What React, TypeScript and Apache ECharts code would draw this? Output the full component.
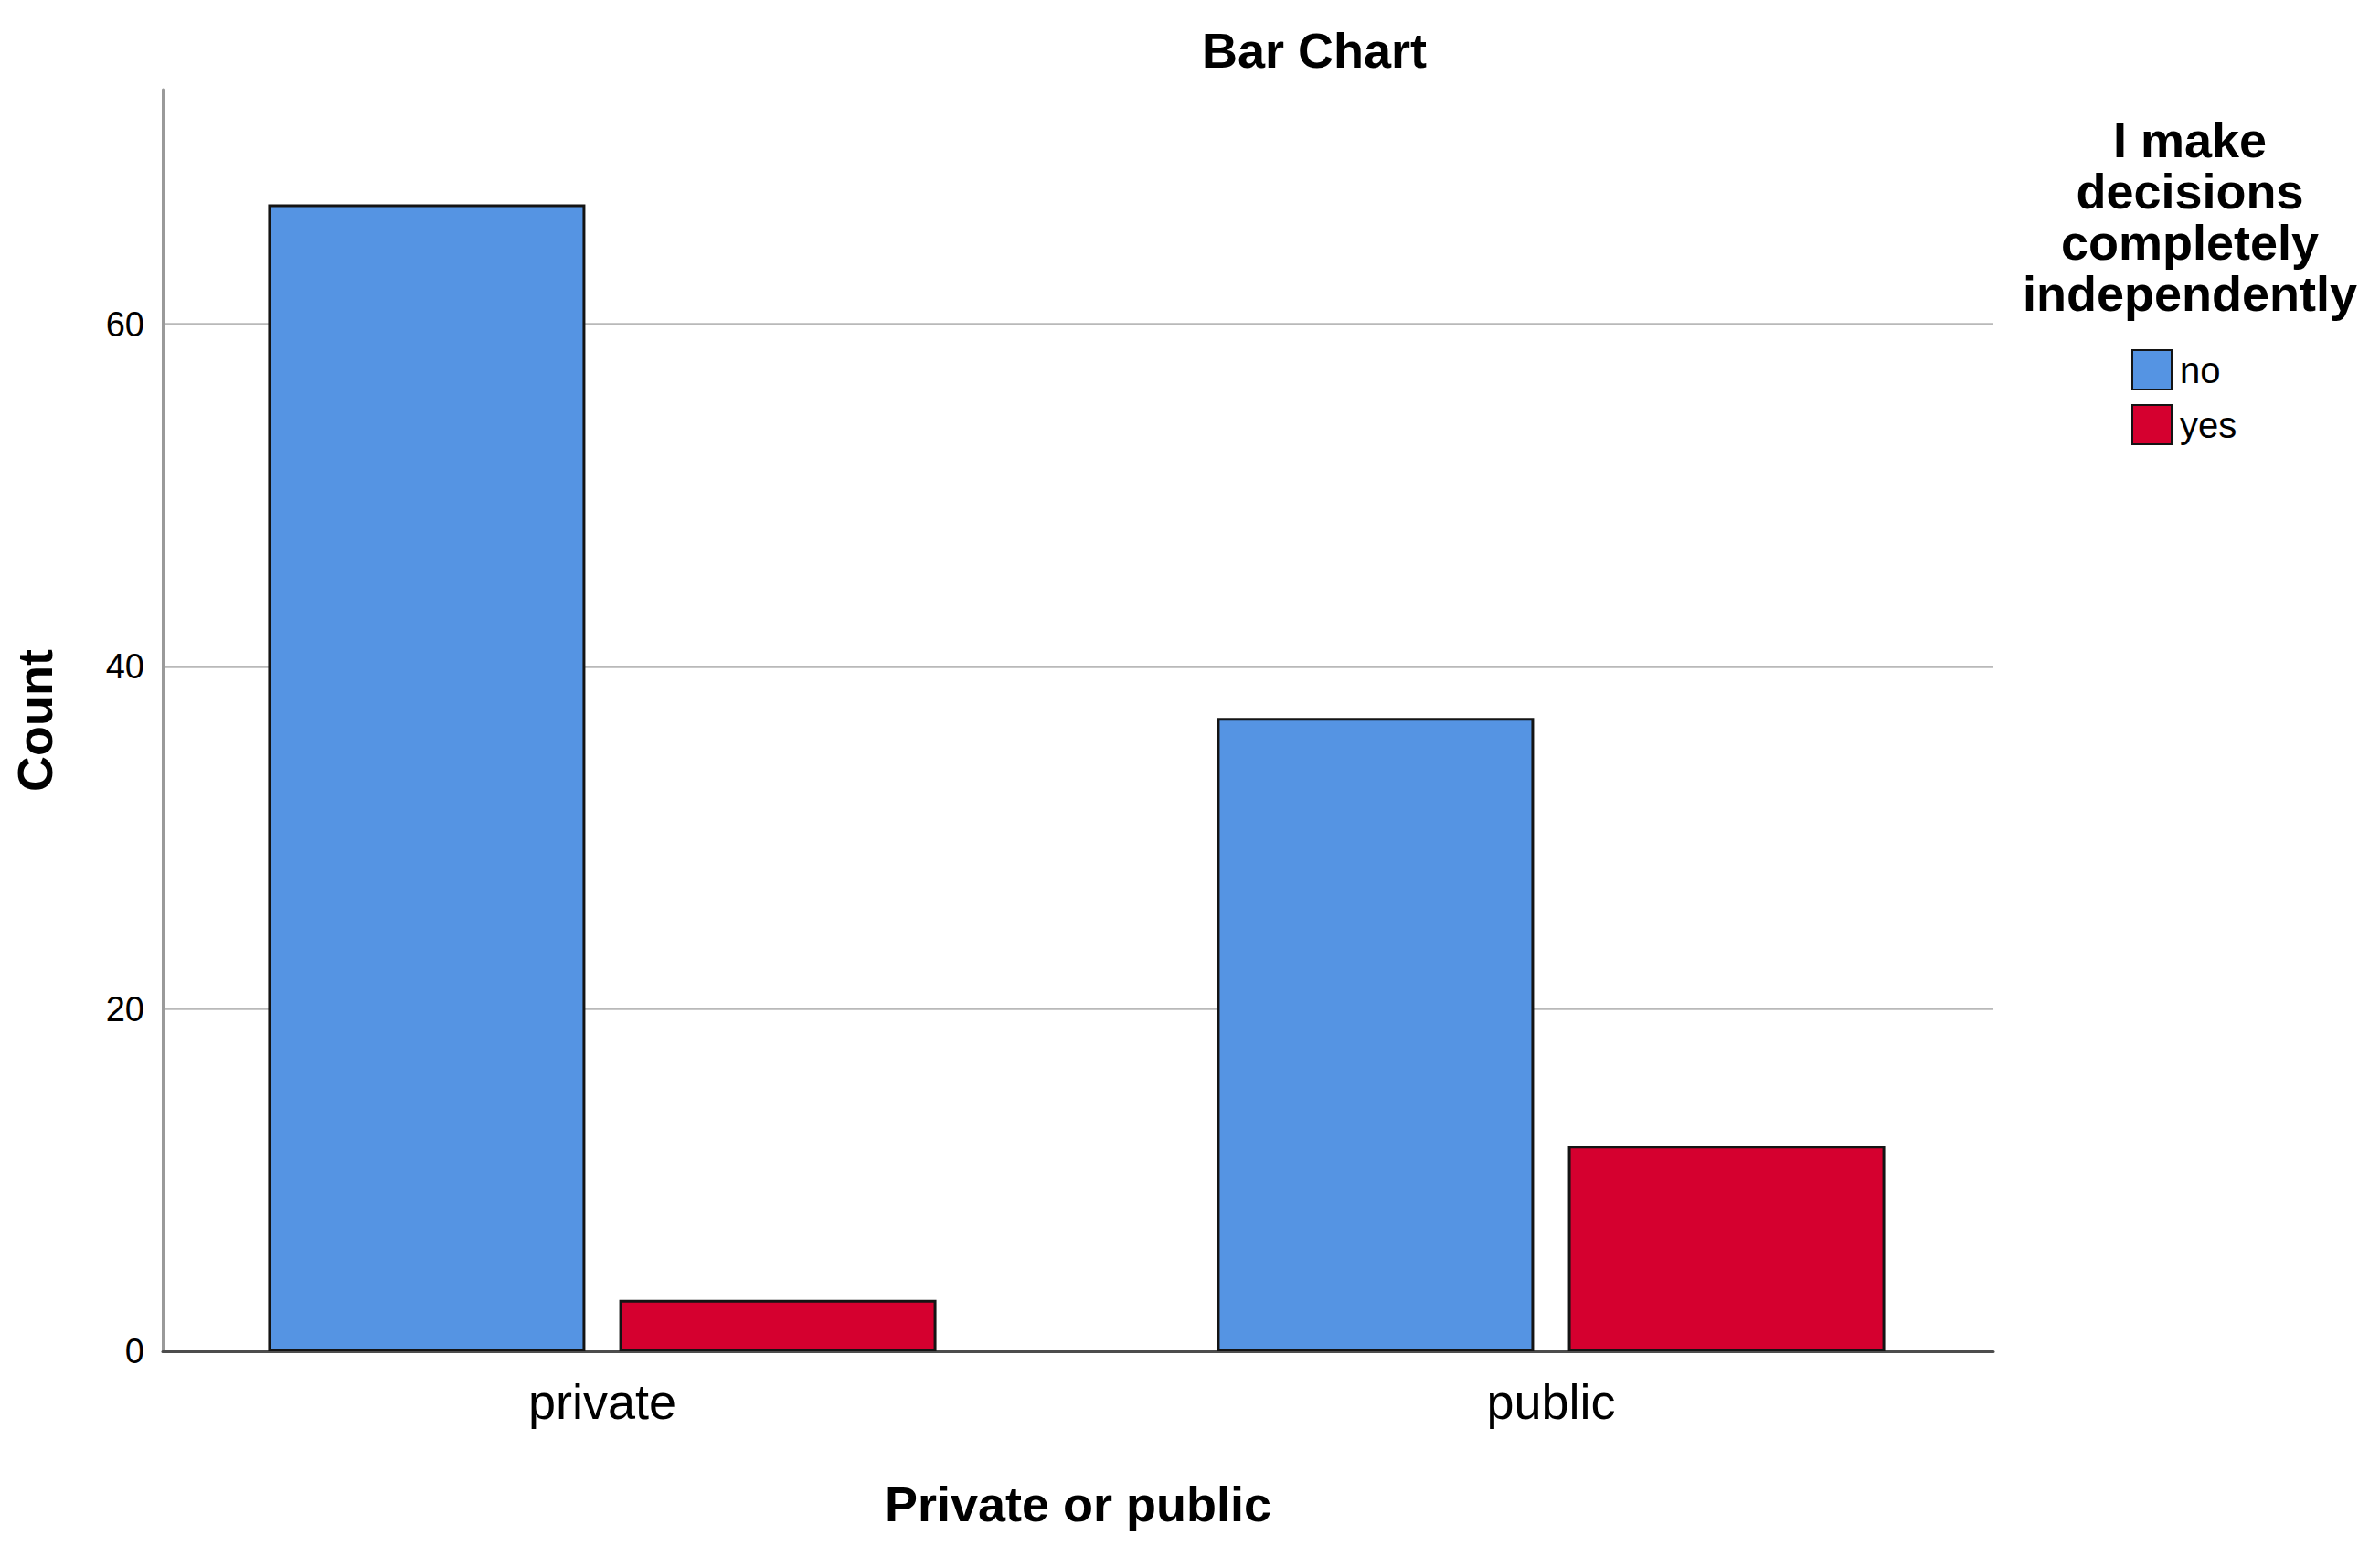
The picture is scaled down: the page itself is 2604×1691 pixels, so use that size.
import React, { useEffect, useRef } from "react";
import * as echarts from "echarts";

const categories = ["private", "public"];
const seriesNames = ["no", "yes"];
const noValues = [67, 37];
const yesValues = [3, 12];
const yTickInterval = 20;
const yMax = 73.7;
const legendTitle = "I make\ndecisions\ncompletely\nindependently";

const FONT = "'Liberation Sans', Arial, sans-serif";

export default function App() {
  const ref = useRef<HTMLDivElement>(null);
  useEffect(() => {
    document.body.style.margin = "0";
    if (!ref.current) return;
    const chart = echarts.init(ref.current, undefined, { renderer: "svg" });
    const border = { borderColor: "#141414", borderWidth: 3 };
    chart.setOption({
      animation: false,
      backgroundColor: "#ffffff",
      textStyle: { fontFamily: FONT },
      graphic: [
        {
          type: "text",
          x: 1438,
          y: 55,
          style: {
            text: "Bar Chart",
            fontFamily: FONT,
            fontSize: 54,
            fontWeight: "bold",
            fill: "#000",
            align: "center",
            verticalAlign: "middle",
          },
        },
        {
          type: "text",
          x: 2396,
          y: 125,
          style: {
            text: legendTitle,
            fontFamily: FONT,
            fontSize: 54,
            lineHeight: 56,
            fontWeight: "bold",
            fill: "#000",
            align: "center",
            verticalAlign: "top",
          },
        },
      ],
      legend: {
        data: seriesNames,
        orient: "vertical",
        left: 2332,
        top: 382,
        padding: 0,
        itemWidth: 43,
        itemHeight: 43,
        itemGap: 15,
        icon: "rect",
        textStyle: { fontSize: 40, color: "#000", fontFamily: FONT, padding: [6, 0, 0, 4] },
      },
      grid: [
        { left: 140, top: 98, width: 2076, height: 1380 },
        { left: 178, top: 98, width: 2003, height: 1380 },
      ],
      xAxis: [
        {
          type: "category",
          gridIndex: 0,
          data: categories,
          axisLine: { show: false },
          axisTick: { show: false },
          axisLabel: { fontSize: 54, color: "#000", margin: 28, fontFamily: FONT },
        },
        {
          type: "value",
          gridIndex: 1,
          min: 0,
          max: 1,
          axisLine: { show: true, lineStyle: { color: "#4d4d4d", width: 3 } },
          axisTick: { show: false },
          axisLabel: { show: false },
          splitLine: { show: false },
          name: "Private or public",
          nameLocation: "middle",
          nameGap: 140,
          nameTextStyle: { fontSize: 54, fontWeight: "bold", color: "#000", fontFamily: FONT },
        },
      ],
      yAxis: [
        {
          type: "value",
          gridIndex: 0,
          min: 0,
          max: yMax,
          show: false,
          splitLine: { show: false },
        },
        {
          type: "value",
          gridIndex: 1,
          min: 0,
          max: yMax,
          interval: yTickInterval,
          axisLine: { show: true, lineStyle: { color: "#9a9a9a", width: 3 } },
          axisTick: { show: false },
          axisLabel: { fontSize: 38, color: "#000", margin: 20, showMaxLabel: false, fontFamily: FONT },
          splitLine: {
            show: true,
            showMinLine: false,
            showMaxLine: false,
            lineStyle: { color: "#b9b9b9", width: 2.5 },
          },
          name: "Count",
          nameLocation: "middle",
          nameGap: 113,
          nameTextStyle: { fontSize: 54, fontWeight: "bold", color: "#000", fontFamily: FONT },
        },
      ],
      series: [
        {
          name: seriesNames[0],
          type: "bar",
          xAxisIndex: 0,
          yAxisIndex: 0,
          data: noValues,
          barWidth: 347,
          barGap: "10.7%",
          itemStyle: { color: "#5594e3", ...border },
          z: 3,
        },
        {
          name: seriesNames[1],
          type: "bar",
          xAxisIndex: 0,
          yAxisIndex: 0,
          data: yesValues,
          barWidth: 347,
          barGap: "10.7%",
          itemStyle: { color: "#d5002f", ...border },
          z: 3,
        },
      ],
    });
    return () => chart.dispose();
  }, []);
  return <div ref={ref} style={{ width: 2604, height: 1691 }} />;
}
